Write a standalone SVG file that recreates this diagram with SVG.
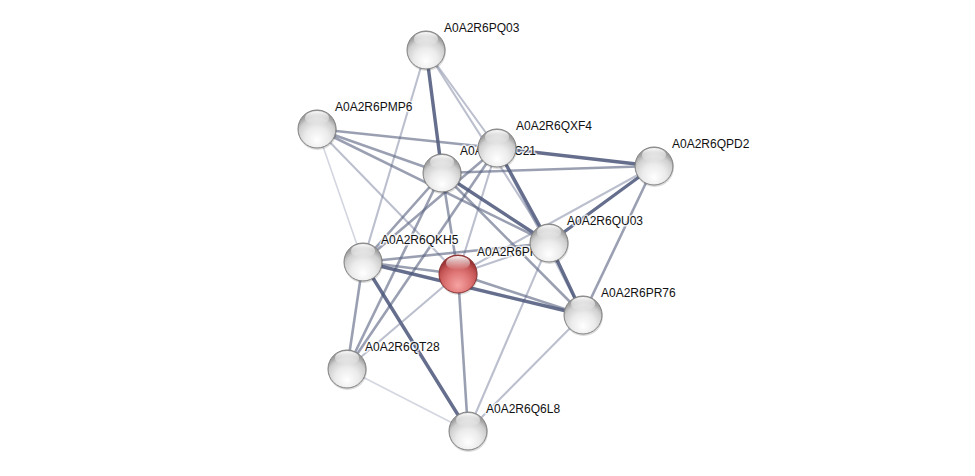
<svg xmlns="http://www.w3.org/2000/svg" width="975" height="476" viewBox="0 0 975 476">
<defs>
<radialGradient id="gGray" cx="50%" cy="72%" r="62%" fx="50%" fy="80%">
<stop offset="0%" stop-color="#ffffff"/>
<stop offset="50%" stop-color="#ebebeb"/>
<stop offset="82%" stop-color="#cfcfcf"/>
<stop offset="100%" stop-color="#a0a0a0"/>
</radialGradient>
<radialGradient id="gRed" cx="50%" cy="72%" r="62%" fx="50%" fy="80%">
<stop offset="0%" stop-color="#f6a3a3"/>
<stop offset="50%" stop-color="#df7676"/>
<stop offset="82%" stop-color="#c45454"/>
<stop offset="100%" stop-color="#9c3636"/>
</radialGradient>
<linearGradient id="gHi" x1="0" y1="0" x2="0" y2="1">
<stop offset="0%" stop-color="#ffffff" stop-opacity="0.95"/>
<stop offset="100%" stop-color="#ffffff" stop-opacity="0"/>
</linearGradient>
</defs>
<style>
line{fill:none;stroke-linecap:round}
.e1{stroke:#4a5578;stroke-opacity:0.85;stroke-width:3.4}
.e2{stroke:#56617f;stroke-opacity:0.6;stroke-width:2.6}
.e3{stroke:#6a7493;stroke-opacity:0.45;stroke-width:2.1}
.e4{stroke:#8089a5;stroke-opacity:0.35;stroke-width:1.6}
.shadow{fill:#000;fill-opacity:0.14}
.ball{fill:url(#gGray);stroke:#808080;stroke-width:1}
.red{fill:url(#gRed);stroke:#8a3030;stroke-width:1}
.hi{fill:url(#gHi)}
text{font-family:"Liberation Sans",Arial,sans-serif;font-size:12px;fill:#111;stroke:#ffffff;stroke-width:3;stroke-opacity:0.75;stroke-linejoin:round;paint-order:stroke}
</style>
<rect width="975" height="476" fill="#ffffff"/>
<g id="edges">
<line class="e1" x1="426" y1="50" x2="442" y2="173"/>
<line class="e3" x1="426" y1="50" x2="497" y2="148"/>
<line class="e3" x1="426" y1="50" x2="549" y2="243"/>
<line class="e3" x1="426" y1="50" x2="363" y2="262"/>
<line class="e2" x1="317" y1="129" x2="497" y2="148"/>
<line class="e2" x1="317" y1="129" x2="442" y2="173"/>
<line class="e2" x1="317" y1="129" x2="549" y2="243"/>
<line class="e3" x1="317" y1="129" x2="458" y2="274"/>
<line class="e4" x1="317" y1="129" x2="363" y2="262"/>
<line class="e1" x1="497" y1="148" x2="654" y2="166"/>
<line class="e1" x1="497" y1="148" x2="549" y2="243"/>
<line class="e2" x1="497" y1="148" x2="363" y2="262"/>
<line class="e2" x1="497" y1="148" x2="347" y2="369"/>
<line class="e3" x1="497" y1="148" x2="458" y2="274"/>
<line class="e3" x1="497" y1="148" x2="583" y2="315"/>
<line class="e2" x1="442" y1="173" x2="654" y2="166"/>
<line class="e1" x1="442" y1="173" x2="549" y2="243"/>
<line class="e2" x1="442" y1="173" x2="583" y2="315"/>
<line class="e2" x1="442" y1="173" x2="363" y2="262"/>
<line class="e2" x1="442" y1="173" x2="347" y2="369"/>
<line class="e2" x1="442" y1="173" x2="458" y2="274"/>
<line class="e1" x1="654" y1="166" x2="549" y2="243"/>
<line class="e3" x1="654" y1="166" x2="458" y2="274"/>
<line class="e2" x1="654" y1="166" x2="583" y2="315"/>
<line class="e1" x1="549" y1="243" x2="583" y2="315"/>
<line class="e2" x1="549" y1="243" x2="363" y2="262"/>
<line class="e3" x1="549" y1="243" x2="458" y2="274"/>
<line class="e3" x1="549" y1="243" x2="468" y2="431"/>
<line class="e2" x1="363" y1="262" x2="458" y2="274"/>
<line class="e1" x1="363" y1="262" x2="583" y2="315"/>
<line class="e1" x1="363" y1="262" x2="468" y2="431"/>
<line class="e2" x1="363" y1="262" x2="347" y2="369"/>
<line class="e2" x1="458" y1="274" x2="583" y2="315"/>
<line class="e2" x1="458" y1="274" x2="468" y2="431"/>
<line class="e3" x1="458" y1="274" x2="347" y2="369"/>
<line class="e3" x1="583" y1="315" x2="468" y2="431"/>
<line class="e4" x1="347" y1="369" x2="468" y2="431"/>
</g>
<g id="node-PF">
<text x="477" y="256">A0A2R6PK66</text>
<circle class="shadow" cx="458.5" cy="275.5" r="19.5"/>
<circle class="red" cx="458" cy="274" r="19"/>
<ellipse class="hi" cx="458" cy="263" rx="12" ry="7"/>
</g>
<g id="node-QC21">
<text x="460" y="155">A0A2R6QC21</text>
<circle class="shadow" cx="442.5" cy="174.5" r="19.5"/>
<circle class="ball" cx="442" cy="173" r="19"/>
<ellipse class="hi" cx="442" cy="162" rx="12" ry="7"/>
</g>
<g id="node-PQ03">
<text x="444" y="32">A0A2R6PQ03</text>
<circle class="shadow" cx="426.5" cy="51.5" r="19.5"/>
<circle class="ball" cx="426" cy="50" r="19"/>
<ellipse class="hi" cx="426" cy="39" rx="12" ry="7"/>
</g>
<g id="node-PMP6">
<text x="335" y="111">A0A2R6PMP6</text>
<circle class="shadow" cx="317.5" cy="130.5" r="19.5"/>
<circle class="ball" cx="317" cy="129" r="19"/>
<ellipse class="hi" cx="317" cy="118" rx="12" ry="7"/>
</g>
<g id="node-QXF4">
<text x="516" y="130">A0A2R6QXF4</text>
<circle class="shadow" cx="497.5" cy="149.5" r="19.5"/>
<circle class="ball" cx="497" cy="148" r="19"/>
<ellipse class="hi" cx="497" cy="137" rx="12" ry="7"/>
</g>
<g id="node-QPD2">
<text x="672" y="148">A0A2R6QPD2</text>
<circle class="shadow" cx="654.5" cy="167.5" r="19.5"/>
<circle class="ball" cx="654" cy="166" r="19"/>
<ellipse class="hi" cx="654" cy="155" rx="12" ry="7"/>
</g>
<g id="node-QU03">
<text x="567" y="225">A0A2R6QU03</text>
<circle class="shadow" cx="549.5" cy="244.5" r="19.5"/>
<circle class="ball" cx="549" cy="243" r="19"/>
<ellipse class="hi" cx="549" cy="232" rx="12" ry="7"/>
</g>
<g id="node-QKH5">
<text x="381" y="244">A0A2R6QKH5</text>
<circle class="shadow" cx="363.5" cy="263.5" r="19.5"/>
<circle class="ball" cx="363" cy="262" r="19"/>
<ellipse class="hi" cx="363" cy="251" rx="12" ry="7"/>
</g>
<g id="node-PR76">
<text x="601" y="297">A0A2R6PR76</text>
<circle class="shadow" cx="583.5" cy="316.5" r="19.5"/>
<circle class="ball" cx="583" cy="315" r="19"/>
<ellipse class="hi" cx="583" cy="304" rx="12" ry="7"/>
</g>
<g id="node-QT28">
<text x="365" y="351">A0A2R6QT28</text>
<circle class="shadow" cx="347.5" cy="370.5" r="19.5"/>
<circle class="ball" cx="347" cy="369" r="19"/>
<ellipse class="hi" cx="347" cy="358" rx="12" ry="7"/>
</g>
<g id="node-Q6L8">
<text x="486" y="413">A0A2R6Q6L8</text>
<circle class="shadow" cx="468.5" cy="432.5" r="19.5"/>
<circle class="ball" cx="468" cy="431" r="19"/>
<ellipse class="hi" cx="468" cy="420" rx="12" ry="7"/>
</g>
</svg>
